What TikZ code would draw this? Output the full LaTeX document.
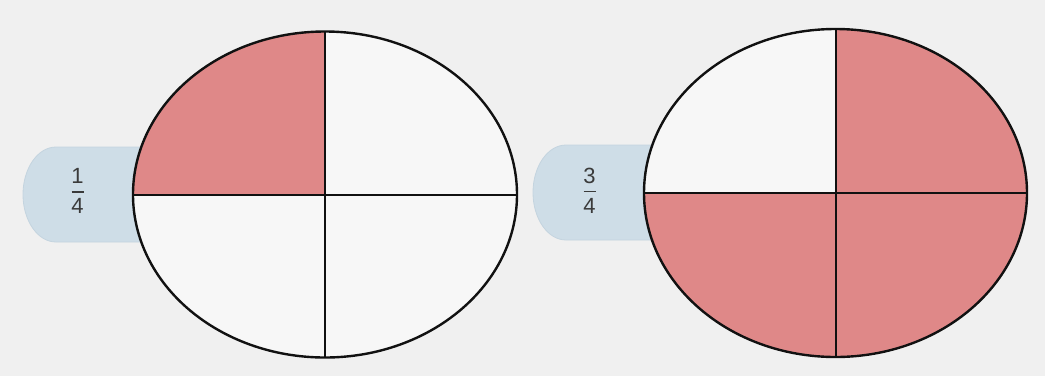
\documentclass[tikz,border=0pt]{standalone}
\usepackage{fontspec}
\setmainfont{Liberation Sans}
\usetikzlibrary{shapes.geometric}
\definecolor{bgcol}{HTML}{F0F0F0}
\definecolor{pillcol}{HTML}{CEDDE7}
\definecolor{pilledge}{HTML}{C4D4DF}
\definecolor{partcol}{HTML}{F7F7F7}
\definecolor{shadecol}{HTML}{DF8888}
\definecolor{inkcol}{HTML}{111111}
\definecolor{textcol}{HTML}{3A3A3A}
\tikzset{
  pill/.style={fill=pillcol, draw=pilledge, line width=0.8pt},
  disc/.style={ellipse, draw=inkcol, line width=2.4pt, inner sep=0pt, outer sep=0pt},
  divider/.style={draw=inkcol, line width=2pt},
  digit/.style={font=\fontsize{22}{24}\selectfont, text=textcol, inner sep=0pt},
  fracbar/.style={draw=textcol, line width=1.4pt}
}
\begin{document}
\begin{tikzpicture}[x=1pt,y=-1pt]
\fill[bgcol] (0,0) rectangle (1045,376);
\useasboundingbox (0,0) rectangle (1045,376);
% label pills
\path[pill] (160,147) -- (56,147) arc[start angle=270,end angle=90,x radius=33,y radius=47.5] -- (160,242) -- cycle;
\path[pill] (670,145) -- (566,145) arc[start angle=270,end angle=90,x radius=33,y radius=47.5] -- (670,240) -- cycle;
% fractions
\node[digit] (n1) at (77.5,176) {1};
\node[digit] (d1) at (77.5,206) {4};
\draw[fracbar] (71.5,192) -- (83.5,192);
\node[digit] (n2) at (589.5,176) {3};
\node[digit] (d2) at (589.5,206) {4};
\draw[fracbar] (583.5,191.5) -- (595.5,191.5);
% left disc: 1/4
\fill[partcol] (325,194.5) ellipse[x radius=192,y radius=163];
\begin{scope}
\clip (325,194.5) ellipse[x radius=192,y radius=163];
\fill[shadecol] (325,194.5) rectangle (120,20);
\end{scope}
\node[disc, minimum width=384pt, minimum height=326pt] (e1) at (325,194.5) {};
\draw[divider] (e1.north) -- (e1.south);
\draw[divider] (e1.west) -- (e1.east);
% right disc: 3/4
\fill[partcol] (835.5,193) ellipse[x radius=191.5,y radius=164];
\begin{scope}
\clip (835.5,193) ellipse[x radius=191.5,y radius=164];
\fill[shadecol] (835.5,20) rectangle (1040,370);
\fill[shadecol] (630,193) rectangle (835.5,370);
\end{scope}
\node[disc, minimum width=383pt, minimum height=328pt] (e2) at (835.5,193) {};
\draw[divider] (e2.north) -- (e2.south);
\draw[divider] (e2.west) -- (e2.east);
\end{tikzpicture}
\end{document}
